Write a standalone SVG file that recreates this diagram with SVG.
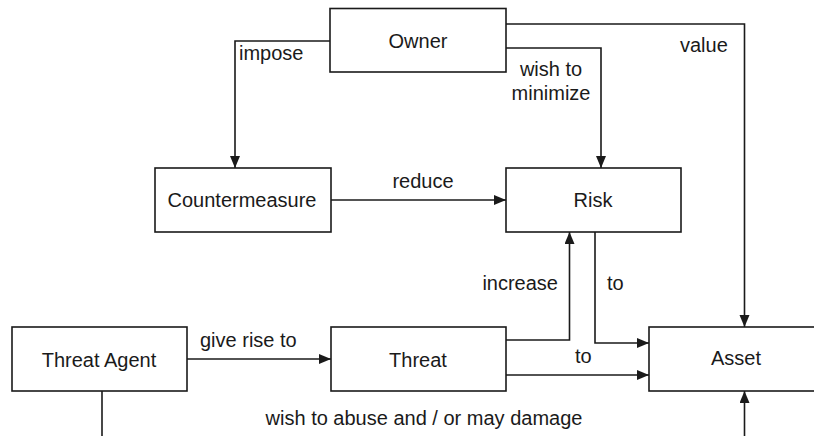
<svg xmlns="http://www.w3.org/2000/svg" width="814" height="436" viewBox="0 0 814 436">
<style>
.box{fill:#fff;stroke:#1a1a1a;stroke-width:1.6}
.lbl{font-family:"Liberation Sans",Arial,sans-serif;font-size:20px;fill:#1a1a1a}
.c{text-anchor:middle}
.e{text-anchor:end}
.con{fill:none;stroke:#1a1a1a;stroke-width:1.6}
</style>
<defs>
<marker id="arr" markerUnits="userSpaceOnUse" markerWidth="13" markerHeight="11" refX="12" refY="5" orient="auto">
<path d="M0,0 L12,5 L0,10 z" fill="#1a1a1a"/>
</marker>
</defs>
<rect width="814" height="436" fill="#fff"/>
<g id="connectors">
<path class="con" d="M330,41 H235 V168" marker-end="url(#arr)"/>
<path class="con" d="M506,48 H601 V168" marker-end="url(#arr)"/>
<path class="con" d="M506,24 H744.5 V327" marker-end="url(#arr)"/>
<path class="con" d="M331,200 H506" marker-end="url(#arr)"/>
<path class="con" d="M506,340 H569.5 V232" marker-end="url(#arr)"/>
<path class="con" d="M595,232 V343 H649" marker-end="url(#arr)"/>
<path class="con" d="M506,375 H649" marker-end="url(#arr)"/>
<path class="con" d="M187,359 H331" marker-end="url(#arr)"/>
<path class="con" d="M102,391 V436"/>
<path class="con" d="M744.5,436 V391" marker-end="url(#arr)"/>
<text class="lbl" x="239" y="60">impose</text>
<text class="lbl c" x="551" y="76">wish to</text>
<text class="lbl c" x="551" y="100">minimize</text>
<text class="lbl" x="680" y="52">value</text>
<text class="lbl c" x="423" y="188">reduce</text>
<text class="lbl e" x="558" y="290">increase</text>
<text class="lbl" x="607" y="290">to</text>
<text class="lbl" x="200" y="347">give rise to</text>
<text class="lbl" x="575" y="363">to</text>
<text class="lbl c" x="424" y="425">wish to abuse and / or may damage</text>
</g>
<g id="owner">
<rect class="box" x="330" y="8.5" width="176" height="63.5"/>
<text class="lbl c" x="418" y="48">Owner</text>
</g>
<g id="countermeasure">
<rect class="box" x="155" y="168" width="176" height="64"/>
<text class="lbl c" x="242" y="207">Countermeasure</text>
</g>
<g id="risk">
<rect class="box" x="506" y="168" width="175" height="64"/>
<text class="lbl c" x="593" y="207">Risk</text>
</g>
<g id="threat-agent">
<rect class="box" x="12" y="327" width="175" height="64"/>
<text class="lbl c" x="99" y="367">Threat Agent</text>
</g>
<g id="threat">
<rect class="box" x="331" y="327" width="175" height="64"/>
<text class="lbl c" x="418" y="367">Threat</text>
</g>
<g id="asset">
<rect class="box" x="649" y="327" width="180" height="64"/>
<text class="lbl c" x="736" y="365">Asset</text>
</g>
</svg>
